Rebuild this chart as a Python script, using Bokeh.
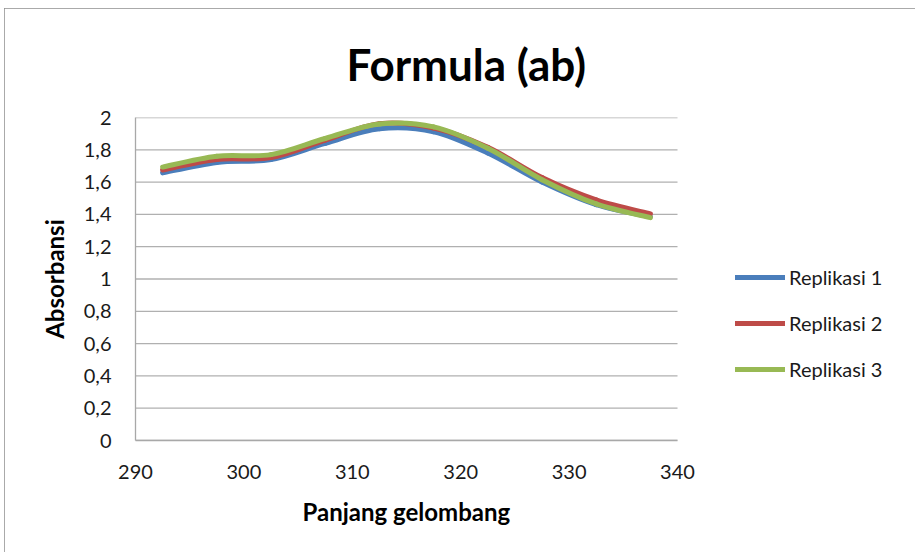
from bokeh.plotting import figure
from bokeh.models import Range1d, FixedTicker, CustomJSTickFormatter, Legend, LegendItem, Title
from bokeh.embed import file_html
from bokeh.resources import INLINE

# ---- data ----
wavelength = [292.5, 297.5, 302.5, 307.5, 312.5, 317.5, 322.5, 327.5, 332.5, 337.5]
replikasi_1 = [1.657, 1.722, 1.740, 1.840, 1.930, 1.912, 1.780, 1.600, 1.460, 1.385]
replikasi_2 = [1.675, 1.740, 1.752, 1.860, 1.962, 1.935, 1.815, 1.628, 1.490, 1.403]
replikasi_3 = [1.693, 1.760, 1.770, 1.870, 1.960, 1.942, 1.810, 1.615, 1.465, 1.380]
series_names = ["Replikasi 1", "Replikasi 2", "Replikasi 3"]
series_colors = ["#4A7EBB", "#BE4B48", "#98B954"]
x_ticks = [290, 300, 310, 320, 330, 340]
y_ticks = [0, 0.2, 0.4, 0.6, 0.8, 1.0, 1.2, 1.4, 1.6, 1.8, 2.0]
title_text = "Formula (ab)"
x_title = "Panjang gelombang"
y_title = "Absorbansi"

FONT = "Lato"

# axis span: 290..340 over 542 px; frame extended to the right to hold the legend
PX_X = 542 / (x_ticks[-1] - x_ticks[0])
FRAME_W = 770
x_end = x_ticks[0] + FRAME_W / PX_X

p = figure(width=911, height=544, output_backend="svg", toolbar_location=None,
           x_range=Range1d(x_ticks[0], x_end), y_range=Range1d(y_ticks[0], y_ticks[-1]),
           min_border_left=131, min_border_right=911 - 131 - FRAME_W,
           min_border_top=108, min_border_bottom=112)
p.margin = (8, 0, 0, 4)
p.styles = {"outline": "2px solid #8e8e8e", "outline-offset": "-2px"}
p.background_fill_color = "white"
p.border_fill_color = "white"
p.outline_line_color = None

# title
p.title.text = title_text
p.title.align = "left"
p.title.offset = 211
p.title.standoff = 55
p.title.text_font = FONT
p.title.text_font_size = "44px"
p.title.text_font_style = "bold"
p.title.text_color = "black"

# grid lines restricted to the axis span
p.xgrid.visible = False
p.ygrid.visible = False
p.segment(x0=x_ticks[0], x1=x_ticks[-1], y0=y_ticks, y1=y_ticks,
          line_color="#b0b0b0", line_width=1.3)

# axes
for ax in (p.xaxis[0], p.yaxis[0]):
    ax.axis_line_color = "#a8a8a8"
    ax.axis_line_width = 1.3
    ax.major_tick_line_color = None
    ax.minor_tick_line_color = None
    ax.major_label_text_font = FONT
    ax.major_label_text_font_size = "20px"
    ax.major_label_text_color = "#1a1a1a"
    ax.axis_label_text_font = FONT
    ax.axis_label_text_font_size = "24px"
    ax.axis_label_text_font_style = "bold"
    ax.axis_label_text_color = "black"

p.xaxis.bounds = (x_ticks[0], x_ticks[-1])
p.xaxis.ticker = FixedTicker(ticks=x_ticks)
p.yaxis.ticker = FixedTicker(ticks=y_ticks)
p.yaxis.formatter = CustomJSTickFormatter(
    code="var s = (Math.round(tick*10)/10).toString(); return s.replace('.', ',');")
p.xaxis.major_label_standoff = 18
p.yaxis.major_label_standoff = 18
p.yaxis.axis_label = y_title
p.yaxis.axis_label_standoff = 12

# x-axis title (placed under the 290..340 span)
xt = Title(text=x_title, align="left", offset=167, standoff=27,
           text_font=FONT, text_font_size="24px", text_font_style="bold", text_color="black")
p.add_layout(xt, "below")

# smooth (Excel-like) bezier segments derived from data
def smooth_segments(xs, ys):
    n = len(xs)
    out = {k: [] for k in ("x0", "y0", "x1", "y1", "cx0", "cy0", "cx1", "cy1")}
    for i in range(n - 1):
        im1 = max(i - 1, 0)
        ip2 = min(i + 2, n - 1)
        out["x0"].append(xs[i]); out["y0"].append(ys[i])
        out["x1"].append(xs[i + 1]); out["y1"].append(ys[i + 1])
        out["cx0"].append(xs[i] + (xs[i + 1] - xs[im1]) / 6)
        out["cy0"].append(ys[i] + (ys[i + 1] - ys[im1]) / 6)
        out["cx1"].append(xs[i + 1] - (xs[ip2] - xs[i]) / 6)
        out["cy1"].append(ys[i + 1] - (ys[ip2] - ys[i]) / 6)
    return out

items = []
for name, ys, col in zip(series_names, [replikasi_1, replikasi_2, replikasi_3], series_colors):
    seg = smooth_segments(wavelength, ys)
    r = p.bezier(x0=seg["x0"], y0=seg["y0"], x1=seg["x1"], y1=seg["y1"],
                 cx0=seg["cx0"], cy0=seg["cy0"], cx1=seg["cx1"], cy1=seg["cy1"],
                 line_color=col, line_width=5, line_cap="round")
    items.append(LegendItem(label=name, renderers=[r], index=0))

legend = Legend(items=items, location=(600, 59), orientation="vertical",
                label_text_font=FONT, label_text_font_size="20px", label_text_color="#1a1a1a",
                glyph_width=50, glyph_height=20, label_height=20, label_standoff=4,
                spacing=22, padding=0, margin=0,
                border_line_alpha=0, background_fill_alpha=0)
p.add_layout(legend)

open("out.html", "w").write(file_html(p, INLINE))
